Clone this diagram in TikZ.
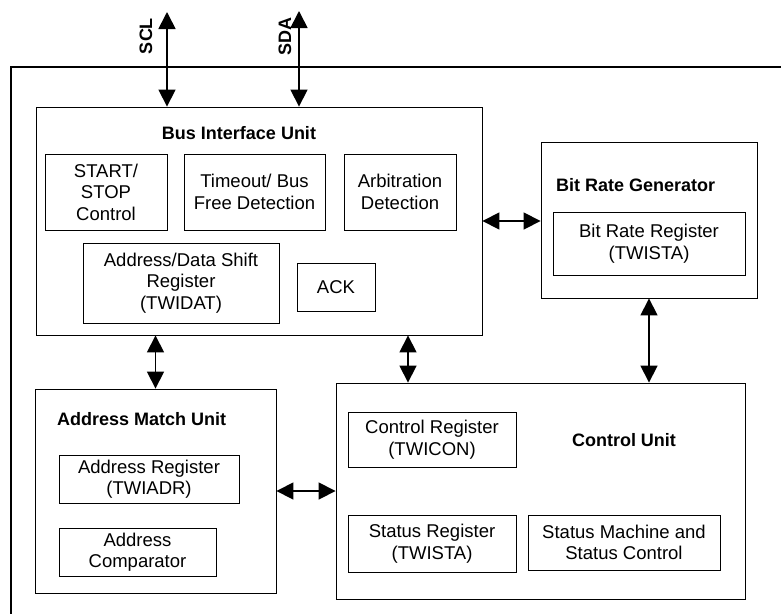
\documentclass[tikz,border=0pt]{standalone}
\usepackage{fontspec}
\setmainfont{Liberation Sans}
\usetikzlibrary{arrows.meta}
\tikzset{
  box/.style={draw, line width=0.9pt, inner sep=0pt, align=center, font=\fontsize{18.5}{21.5}\selectfont},
  ttl/.style={inner sep=0pt, font=\bfseries\fontsize{18}{21}\selectfont},
  biarrow/.style={line width=1.7pt, {Triangle[length=17pt,width=17pt]}-{Triangle[length=17pt,width=17pt]}},
  frame/.style={line width=1.4pt}
}
\begin{document}
\begin{tikzpicture}[x=1pt,y=-1pt]
\useasboundingbox (0,0) rectangle (781,614);
% outer frame (cropped)
\coordinate (ftr) at (781,67);
\coordinate (ftl) at (11,67);
\coordinate (fbl) at (11,614);
\draw[frame] (ftr) -- (ftl) -- (fbl);

% Bus Interface Unit
\node[box, minimum width=446pt, minimum height=228pt] (biu) at (259,221) {};
\node[ttl] (biut) at (239,133) {Bus Interface Unit};
\node[box, minimum width=122pt, minimum height=76pt] (ss) at (106,192) {START/\\STOP\\Control};
\node[box, minimum width=141pt, minimum height=76pt] (tb) at (254.5,192) {Timeout/ Bus\\Free Detection};
\node[box, minimum width=112pt, minimum height=76pt] (arb) at (400,192) {Arbitration\\Detection};
\node[box, minimum width=196pt, minimum height=80pt] (ads) at (181,283) {Address/Data Shift\\Register\\(TWIDAT)};
\node[box, minimum width=78pt, minimum height=48pt] (ack) at (336,287) {ACK};

% Bit Rate Generator
\node[box, minimum width=216pt, minimum height=156pt] (brg) at (649,220) {};
\node[ttl, anchor=west] (brgt) at (556,185) {Bit Rate Generator};
\node[box, minimum width=192pt, minimum height=63pt] (brr) at (649,243.5) {Bit Rate Register\\(TWISTA)};

% Address Match Unit
\node[box, minimum width=241pt, minimum height=204pt] (amu) at (155.5,491) {};
\node[ttl, anchor=west] (amut) at (57,419) {Address Match Unit};
\node[box, minimum width=180pt, minimum height=48pt] (adr) at (149,479) {Address Register\\(TWIADR)};
\node[box, minimum width=157pt, minimum height=48pt] (cmp) at (137.5,552) {Address\\Comparator};

% Control Unit
\node[box, minimum width=409pt, minimum height=216pt] (cu) at (540.5,491) {};
\node[ttl] (cut) at (624,440) {Control Unit};
\node[box, minimum width=168pt, minimum height=55pt] (cr) at (432,439.5) {Control Register\\(TWICON)};
\node[box, minimum width=168pt, minimum height=57pt] (sr) at (432,543.5) {Status Register\\(TWISTA)};
\node[box, minimum width=192pt, minimum height=55pt] (sm) at (624,542.5) {Status Machine and\\Status Control};

% external bus lines
\coordinate (sclt) at (167,12);
\coordinate (sdat) at (299,11);
\draw[biarrow] (sclt) -- (sclt |- biu.north);
\draw[biarrow] (sdat) -- (sdat |- biu.north);
\node[ttl, rotate=90] (scl) at (146,36) {SCL};
\node[ttl, rotate=90] (sda) at (285,36) {SDA};

% internal connectors
\coordinate (bcx) at (408,0);
\draw[biarrow] (biu.east) -- (biu.east -| brg.west);
\draw[biarrow] (amu.north |- biu.south) -- (amu.north);
\draw[biarrow] (bcx |- biu.south) -- (bcx |- cu.north);
\draw[biarrow] (brg.south) -- (brg.south |- cu.north);
\draw[biarrow] (amu.east) -- (amu.east -| cu.west);
\end{tikzpicture}
\end{document}
